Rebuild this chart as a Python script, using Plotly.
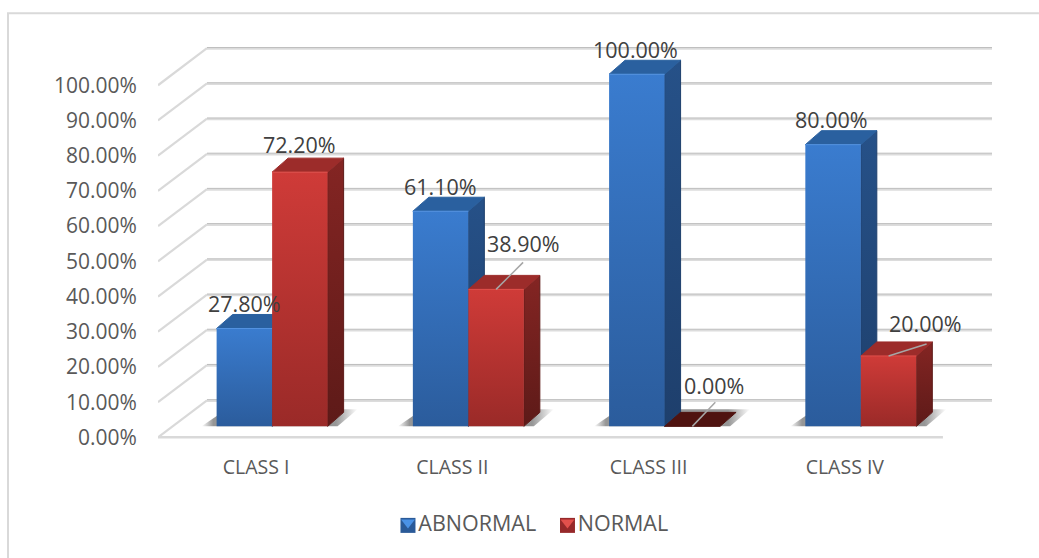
import plotly.graph_objects as go

# Chart data
categories = ["CLASS I", "CLASS II", "CLASS III", "CLASS IV"]
abnormal = [27.8, 61.1, 100.0, 80.0]
normal = [72.2, 38.9, 0.0, 20.0]
y_ticks = [0, 10, 20, 30, 40, 50, 60, 70, 80, 90, 100]
y_tick_labels = [f"{t:.2f}%" for t in y_ticks]

# Pixel geometry of the plot box and of the oblique projection
WIDTH, HEIGHT = 1039, 558
PX_PER_CAT = 196.25
PX_PER_VAL = 3.52
LEFT, FLOOR_Y = 158, 437
WALL_DX, WALL_DY = 49, 37
BAR_DX, BAR_DY = 16, 14
BAR_LIFT = 11
BAR_SHIFT = 16
BAR_W = 55.5
Y_MAX = 112
Y_MIN = -30  # room under the floor for the legend keys
X_MIN, X_MAX = -0.5, 3.75


def dx(px):
    return px / PX_PER_CAT


def dy(px):
    return px / PX_PER_VAL


# Label offsets from the top of each bar's front face, in pixels
abnormal_label_shift = [(0, 25), (0, 25), (-1, 25), (-2, 25)]
normal_label_shift = [(0, 28), (27, 46), (22, 41), (37, 32)]
# Leader lines from the bar top towards displaced labels, in pixels
normal_leaders = [None, (27, 27), (23, 24), (38, 12)]

BLUE = dict(front=["#2b5c9c", "#3a7ccf"], side=["#1e3f6c", "#265188"], top="#2a609f", edge="#5594e2",
            key_dark="#2a5a98", key_light="#4a92e6", key_px=408)
RED = dict(front=["#9a2a28", "#cf3b38"], side=["#5d1a18", "#842523"], top="#9c2c2a", edge="#e2504c",
           key_dark="#96292a", key_light="#e2504c", key_px=567.5)
ZERO_TOP = "#4f1310"
TEXT_AXIS = "#595959"
TEXT_LABEL = "#404040"
FONT = "Open Sans"

fig = go.Figure()


def poly(xs, ys, fill=None, gradient=None, line=None):
    trace = dict(
        x=list(xs) + [xs[0]], y=list(ys) + [ys[0]], mode="lines", fill="toself",
        showlegend=False, hoverinfo="skip", cliponaxis=False,
        line=dict(width=1 if line else 0, color=line or "rgba(0,0,0,0)"),
    )
    if gradient:
        trace["fillgradient"] = gradient
        trace["fillcolor"] = gradient["colorscale"][0][1]
    else:
        trace["fillcolor"] = fill
    fig.add_trace(go.Scatter(**trace))


def vgrad(colors):
    return dict(type="vertical", colorscale=[[0, colors[0]], [1, colors[1]]])


# Walls and floor: gridlines on the back wall and diagonals on the left wall
wall_x, wall_y, back_x, back_y = [], [], [], []
back_rise, back_run = dy(WALL_DY), dx(WALL_DX)
for t in y_ticks:
    wall_x += [X_MIN, X_MIN + back_run, None]
    wall_y += [t, t + back_rise, None]
    back_x += [X_MIN + back_run, X_MAX, None]
    back_y += [t + back_rise, t + back_rise, None]
fig.add_trace(go.Scatter(x=wall_x, y=wall_y, mode="lines", line=dict(color="#d9d9d9", width=2.2),
                         showlegend=False, hoverinfo="skip", cliponaxis=False))
fig.add_trace(go.Scatter(x=back_x, y=[None if v is None else v - dy(0.5) for v in back_y], mode="lines",
                         line=dict(color="#dcdcdc", width=2.2),
                         showlegend=False, hoverinfo="skip", cliponaxis=False))
fig.add_trace(go.Scatter(x=back_x, y=[None if v is None else v + dy(0.7) for v in back_y], mode="lines",
                         line=dict(color="#bdbdbd", width=1),
                         showlegend=False, hoverinfo="skip", cliponaxis=False))
fig.add_trace(go.Scatter(x=[X_MIN, 3.5], y=[0, 0], mode="lines", line=dict(color="#d9d9d9", width=2.5),
                         showlegend=False, hoverinfo="skip", cliponaxis=False))

base = dy(BAR_LIFT)
shift = dx(BAR_SHIFT)
bw = dx(BAR_W)

# Soft floor shadows beneath each pair of bars
for c in range(len(categories)):
    x0 = c + shift - bw
    x1 = c + shift + bw
    sx = [x0 - dx(15), x1 + dx(10), x1 + dx(30), x0 + dx(10)]
    sy = [base, base, base + dy(17), base + dy(17)]
    poly(sx, sy, gradient=dict(
        type="horizontal",
        colorscale=[[0, "rgba(80,80,80,0)"], [0.075, "rgba(80,80,80,0.6)"], [0.86, "rgba(80,80,80,0.6)"],
                    [1, "rgba(80,80,80,0)"]],
    ))


def draw_bar(left, value, style):
    right = left + bw
    top = base + value
    ddx, ddy = dx(BAR_DX), dy(BAR_DY)
    if value > 0:
        poly([right, right + ddx, right + ddx, right], [base, base + ddy, top + ddy, top],
             gradient=vgrad(style["side"]), line=style["side"][0])
    top_color = style["top"] if value > 0 else ZERO_TOP
    poly([left, right, right + ddx, left + ddx], [top, top, top + ddy, top + ddy], fill=top_color, line=top_color)
    if value > 0:
        poly([left, right, right, left], [base, base, top, top], gradient=vgrad(style["front"]))
        fig.add_trace(go.Scatter(x=[left, right], y=[top, top], mode="lines",
                                 line=dict(color=style["edge"], width=1),
                                 showlegend=False, hoverinfo="skip", cliponaxis=False))


for c in range(len(categories)):
    draw_bar(c + shift - bw, abnormal[c], BLUE)
    draw_bar(c + shift, normal[c], RED)

# Leader lines
for c, leader in enumerate(normal_leaders):
    if leader:
        cx = c + shift + bw / 2
        cy = base + normal[c]
        fig.add_trace(go.Scatter(x=[cx, cx + dx(leader[0])], y=[cy, cy + dy(leader[1])], mode="lines",
                                 line=dict(color="#a6a6a6", width=1.5),
                                 showlegend=False, hoverinfo="skip", cliponaxis=False))

# Legend keys below the axis: a dark square with a light wedge, followed by the series name
KEY_Y = 525
for name, style in (("ABNORMAL", BLUE), ("NORMAL", RED)):
    kx = X_MIN + dx(style["key_px"] - LEFT)
    ky = dy(FLOOR_Y - KEY_Y)
    fig.add_trace(go.Scatter(
        x=[kx], y=[ky], mode="markers+text", name=name, text=[name], textposition="middle right",
        textfont=dict(family=FONT, size=21.5, color=TEXT_AXIS), showlegend=False, hoverinfo="skip",
        cliponaxis=False,
        marker=dict(symbol="square", size=15, color=style["key_dark"], line=dict(width=0)),
    ))
    fig.add_trace(go.Scatter(
        x=[kx], y=[ky + dy(3)], mode="markers", showlegend=False, hoverinfo="skip", cliponaxis=False,
        marker=dict(symbol="triangle-down", size=12, color=style["key_light"], line=dict(width=0)),
    ))

# Data labels
annotations = []
for values, shifts, offset in ((abnormal, abnormal_label_shift, -bw / 2), (normal, normal_label_shift, bw / 2)):
    for c, v in enumerate(values):
        annotations.append(dict(
            x=c + shift + offset, y=base + v, xref="x", yref="y", text=f"{v:.2f}%", showarrow=False,
            xshift=shifts[c][0], yshift=shifts[c][1], xanchor="center", yanchor="middle",
            font=dict(family=FONT, size=21.5, color=TEXT_LABEL),
        ))

plot_w = (X_MAX - X_MIN) * PX_PER_CAT
plot_h = (Y_MAX - Y_MIN) * PX_PER_VAL
plot_bottom = FLOOR_Y - Y_MIN * PX_PER_VAL
margin_t = plot_bottom - plot_h
margin_r = WIDTH - LEFT - plot_w
fx = lambda px: (px - LEFT) / plot_w
fy = lambda px: (plot_bottom - px) / plot_h

fig.update_layout(
    width=WIDTH, height=HEIGHT, autosize=False,
    margin=dict(l=LEFT, r=margin_r, t=margin_t, b=HEIGHT - plot_bottom, pad=0, autoexpand=False),
    paper_bgcolor="white", plot_bgcolor="rgba(0,0,0,0)",
    font=dict(family=FONT, color=TEXT_AXIS),
    showlegend=False,
    xaxis=dict(range=[X_MIN, X_MAX], showgrid=False, zeroline=False, showline=False,
               anchor="free", position=fy(FLOOR_Y),
               tickmode="array", tickvals=list(range(len(categories))), ticktext=categories,
               ticks="outside", ticklen=12, tickcolor="rgba(0,0,0,0)",
               tickfont=dict(family=FONT, size=19.5, color=TEXT_AXIS)),
    yaxis=dict(range=[Y_MIN, Y_MAX], showgrid=False, zeroline=False, showline=False,
               tickmode="array", tickvals=y_ticks, ticktext=y_tick_labels,
               ticks="outside", ticklen=16, tickcolor="rgba(0,0,0,0)",
               tickfont=dict(family=FONT, size=21, color=TEXT_AXIS)),
    annotations=annotations,
    shapes=[
        dict(type="line", xref="paper", yref="paper", x0=fx(7), x1=fx(WIDTH), y0=fy(13), y1=fy(13),
             line=dict(color="#d9d9d9", width=2)),
        dict(type="line", xref="paper", yref="paper", x0=fx(8), x1=fx(8), y0=fy(13), y1=fy(HEIGHT),
             line=dict(color="#d9d9d9", width=2)),
    ],
)

fig.write_html("out.html")
